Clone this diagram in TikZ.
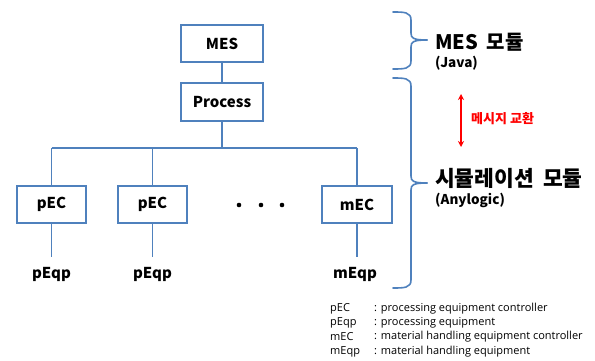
\documentclass[tikz,border=0pt]{standalone}
\usepackage{fontspec}
\setmainfont{Noto Sans CJK KR}
\newfontfamily\kr{Noto Sans CJK KR}
\newfontfamily\lat{Open Sans}
\usetikzlibrary{arrows.meta}
\definecolor{lineblue}{RGB}{79,129,189}
\definecolor{msgred}{RGB}{255,0,0}
\tikzset{
  boxnode/.style={draw=lineblue, line width=1.6pt, inner sep=0pt, font=\kr\bfseries\fontsize{15}{17}\selectfont},
  conn/.style={draw=lineblue, line width=1.6pt},
  eqlabel/.style={inner sep=0pt, font=\kr\bfseries\fontsize{15}{17}\selectfont},
  bigtext/.style={inner sep=0pt, anchor=west, font=\kr\bfseries\fontsize{20}{23}\selectfont},
  subtext/.style={inner sep=0pt, anchor=west, font=\kr\bfseries\fontsize{13.5}{15}\selectfont},
  legend/.style={inner sep=0pt, anchor=west, font=\lat\fontsize{11}{13}\selectfont},
  brace/.style={draw=lineblue, line width=1.6pt, line cap=round}
}
\begin{document}
\begin{tikzpicture}[x=1pt,y=-1pt]
\useasboundingbox (0,0) rectangle (595,361);
% boxes
\node[boxnode, minimum width=82pt, minimum height=37pt] (mes) at (222,43.5) {MES};
\node[boxnode, minimum width=82pt, minimum height=38pt] (proc) at (222,102) {Process};
\node[boxnode, minimum width=69pt, minimum height=37pt] (pec1) at (51.5,204.5) {pEC};
\node[boxnode, minimum width=69pt, minimum height=37pt] (pec2) at (152.5,204.5) {pEC};
\node[boxnode, minimum width=70pt, minimum height=37pt] (mec) at (357,204.5) {mEC};
% bus
\coordinate (bus) at (222,148);
\coordinate (busl) at (51.5,148);
\coordinate (busm) at (152.5,148);
\coordinate (busr) at (357,148);
\draw[conn] (mes.south) -- (proc.north);
\draw[conn] (proc.south) -- (bus);
\draw[conn] (busl) -- (busr);
\draw[conn] (busl) -- (pec1.north);
\draw[conn] (busm) -- (pec2.north);
\draw[conn] (busr) -- (mec.north);
% lower stubs
\coordinate (e1) at (51.5,257);
\coordinate (e2) at (152.5,257);
\coordinate (e3) at (357,257);
\draw[conn] (pec1.south) -- (e1);
\draw[conn] (pec2.south) -- (e2);
\draw[conn] (mec.south) -- (e3);
\node[eqlabel] (q1) at (51.5,274) {pEqp};
\node[eqlabel] (q2) at (152.5,274) {pEqp};
\node[eqlabel] (q3) at (355,274) {mEqp};
% dots
\fill (239,205) circle (2.3pt);
\fill (261,205) circle (2.3pt);
\fill (282,205) circle (2.3pt);
% braces
\draw[brace] (393,12) .. controls (404,12) and (411,12) .. (411,20) -- (411,33)
  .. controls (411,38) and (413,40) .. (427,40);
\draw[brace] (393,69) .. controls (404,69) and (411,69) .. (411,61) -- (411,47)
  .. controls (411,42) and (413,40) .. (427,40);
\draw[brace] (393,78) .. controls (404,78) and (411,78) .. (411,86) -- (411,176)
  .. controls (411,181) and (413,183) .. (427,183);
\draw[brace] (393,288) .. controls (404,288) and (411,288) .. (411,280) -- (411,190)
  .. controls (411,185) and (413,183) .. (427,183);
% right texts
\node[bigtext] (mesmod) at (435,42) {MES\hspace{4pt} 모듈};
\node[subtext] (java) at (435,63) {(Java)};
\node[bigtext, font=\kr\bfseries\fontsize{21.5}{24}\selectfont] (simmod) at (435,178) {시뮬레이션\hspace{4pt} 모듈};
\node[subtext] (anyl) at (435,200) {(Anylogic)};
\coordinate (at) at (461,94);
\coordinate (ab) at (461,147);
\draw[msgred, line width=1.6pt, {Stealth[length=6pt,width=6pt]}-{Stealth[length=6pt,width=6pt]}] (at) -- (ab);
\node[inner sep=0pt, anchor=west, text=msgred, font=\kr\bfseries\fontsize{13}{15}\selectfont] (msg) at (471,119) {메시지 교환};
% legend
\node[legend] (l1a) at (330,309) {pEC};
\node[legend] (l1b) at (374,309) {: processing equipment controller};
\node[legend] (l2a) at (330,323) {pEqp};
\node[legend] (l2b) at (374,323) {: processing equipment};
\node[legend] (l3a) at (330,337) {mEC};
\node[legend] (l3b) at (374,337) {: material handling equipment controller};
\node[legend] (l4a) at (330,352) {mEqp};
\node[legend] (l4b) at (374,352) {: material handling equipment};
\end{tikzpicture}
\end{document}
